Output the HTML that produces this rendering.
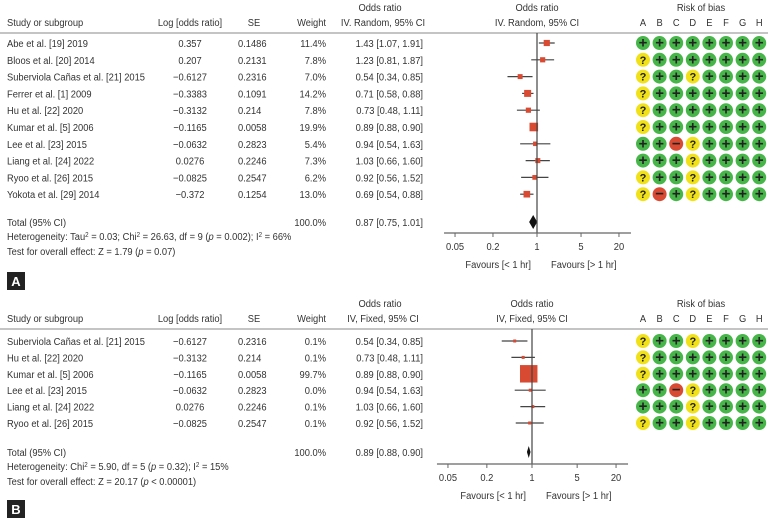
<!DOCTYPE html>
<html><head><meta charset="utf-8"><style>
html,body{margin:0;padding:0;background:#fff;}
svg{display:block;font-family:"Liberation Sans",sans-serif;}
text{fill:#333;font-size:10.5px;}
text.lbl{fill:#fff;font-weight:bold;font-size:13px;}
</style></head><body>
<svg id="chart" width="774" height="527" viewBox="0 0 774 527"></svg>
<script>
// Panel A data
const studiesA = ["Abe et al. [19] 2019","Bloos et al. [20] 2014","Suberviola Cañas et al. [21] 2015","Ferrer et al. [1] 2009","Hu et al. [22] 2020","Kumar et al. [5] 2006","Lee et al. [23] 2015","Liang et al. [24] 2022","Ryoo et al. [26] 2015","Yokota et al. [29] 2014"];
const logOrA = ["0.357","0.207","−0.6127","−0.3383","−0.3132","−0.1165","−0.0632","0.0276","−0.0825","−0.372"];
const seA = ["0.1486","0.2131","0.2316","0.1091","0.214","0.0058","0.2823","0.2246","0.2547","0.1254"];
const weightA = [11.4,7.8,7.0,14.2,7.8,19.9,5.4,7.3,6.2,13.0];
const orA = [1.43,1.23,0.54,0.71,0.73,0.89,0.94,1.03,0.92,0.69];
const loA = [1.07,0.81,0.34,0.58,0.48,0.88,0.54,0.66,0.56,0.54];
const hiA = [1.91,1.87,0.85,0.88,1.11,0.90,1.63,1.60,1.52,0.88];
const robA = ["++++++++","?+++++++","?++?++++","?+++++++","?+++++++","?+++++++","++-?++++","+++?++++","?++?++++","?-+?++++"];
const totalA = [0.87,0.75,1.01];
// Panel B data
const studiesB = ["Suberviola Cañas et al. [21] 2015","Hu et al. [22] 2020","Kumar et al. [5] 2006","Lee et al. [23] 2015","Liang et al. [24] 2022","Ryoo et al. [26] 2015"];
const logOrB = ["−0.6127","−0.3132","−0.1165","−0.0632","0.0276","−0.0825"];
const seB = ["0.2316","0.214","0.0058","0.2823","0.2246","0.2547"];
const weightB = [0.1,0.1,99.7,0.0,0.1,0.1];
const orB = [0.54,0.73,0.89,0.94,1.03,0.92];
const loB = [0.34,0.48,0.88,0.54,0.66,0.56];
const hiB = [0.85,1.11,0.90,1.63,1.60,1.52];
const robB = ["?++?++++","?+++++++","?+++++++","++-?++++","+++?++++","?++?++++"];
const totalB = [0.89,0.88,0.90];
const ticks = [0.05,0.2,1,5,20];
const robLetters = ["A","B","C","D","E","F","G","H"];

const svg = document.getElementById('chart');
const NS = "http://www.w3.org/2000/svg";
function el(tag, attrs, parent){const e=document.createElementNS(NS,tag);for(const k in attrs)e.setAttribute(k,attrs[k]);(parent||svg).appendChild(e);return e;}
function txt(x,y,s,anchor,parent,noScale){
  const t=el('text',{x:0,y:0,'text-anchor':anchor||'start',transform:`translate(${x},${y})`+(noScale?'':' scale(0.89,1)')},parent);
  t.textContent=s;return t;}
function fmt(v){return v.toFixed(2);}

function panel(cfg){
  const g = el('g',{});
  
  
  const X = v => cfg.x1 + Math.log10(v)*cfg.scale;
  const Y = i => cfg.row0 + i*cfg.rowH;
  let h;
  h=txt(380,cfg.hy-15,"Odds ratio",'middle',g); 
  h=txt(cfg.x1,cfg.hy-15,"Odds ratio",'middle',g); 
  h=txt(701,cfg.hy-15,"Risk of bias",'middle',g); 
  txt(7,cfg.hy,"Study or subgroup",'start',g);
  txt(190,cfg.hy,"Log [odds ratio]",'middle',g);
  txt(254,cfg.hy,"SE",'middle',g);
  txt(326,cfg.hy,"Weight",'end',g);
  txt(383,cfg.hy,cfg.method+" 95% CI",'middle',g);
  txt(cfg.x1,cfg.hy,cfg.method+" 95% CI",'middle',g);
  robLetters.forEach((L,j)=>{const t=txt(643+j*16.6,cfg.hy,L,'middle',g);});
  const hl=el('line',{x1:0,x2:768,y1:cfg.hy+7,y2:cfg.hy+7,stroke:'#888','stroke-width':1},g);
  
  cfg.studies.forEach((s,i)=>{
    const y=Y(i);
    const r=el('g',{},g);
    
    
    txt(7,y+4,s,'start',r);
    txt(190,y+4,cfg.logOr[i],'middle',r);
    txt(238,y+4,cfg.se[i],'start',r);
    txt(326,y+4,cfg.weight[i].toFixed(1)+"%",'end',r);
    txt(423,y+4,fmt(cfg.or[i])+" ["+fmt(cfg.lo[i])+", "+fmt(cfg.hi[i])+"]",'end',r);
    const ci=el('line',{x1:X(cfg.lo[i]),x2:X(cfg.hi[i]),y1:y,y2:y,stroke:'#444','stroke-width':1.2},r);
    
    
    const sz=cfg.sq(cfg.weight[i]);
    const sq=el('rect',{x:X(cfg.or[i])-sz/2,y:y-sz/2,width:sz,height:sz,fill:'#d94a32'},r);
    
    
    cfg.rob[i].split('').forEach((c,j)=>{
      const cx=643+j*16.6;
      const col=c==='+'?'#46b648':c==='?'?'#f1e119':'#d94a32';
      const cc=el('circle',{cx:cx,cy:y,r:7,fill:col},r);
      
      
      const t=txt(cx,y+(c==='?'?4:4.5),c==='-'?'−':c,'middle',r,true);
      t.setAttribute('style','font-weight:bold;font-size:'+(c==='?'?'11px':'15px')+';fill:#222');
    });
  });
  const ty=cfg.totY;
  txt(7,ty+4,"Total (95% CI)",'start',g);
  txt(326,ty+4,"100.0%",'end',g);
  txt(423,ty+4,fmt(cfg.total[0])+" ["+fmt(cfg.total[1])+", "+fmt(cfg.total[2])+"]",'end',g);
  const dh=cfg.dh;
  const lx=Math.min(X(cfg.total[1]),X(cfg.total[0])-1.8), rx=Math.max(X(cfg.total[2]),X(cfg.total[0])+1.8);
  const d=el('polygon',{points:`${lx},${ty} ${X(cfg.total[0])},${ty-dh} ${rx},${ty} ${X(cfg.total[0])},${ty+dh}`,fill:'#111'},g);
  
  
  const het=txt(7,ty+18,"",'start',g);
  het.innerHTML=cfg.het;
  
  const te=txt(7,ty+33,"",'start',g);
  te.innerHTML=cfg.test;
  
  const vl=el('line',{x1:cfg.x1,x2:cfg.x1,y1:cfg.hy+7,y2:cfg.axY,stroke:'#444','stroke-width':1.2},g);
  
  const ax=el('line',{x1:X(ticks[0])-11,x2:X(ticks[4])+12,y1:cfg.axY,y2:cfg.axY,stroke:'#666','stroke-width':1.2},g);
  
  ticks.forEach(t=>{
    el('line',{x1:X(t),x2:X(t),y1:cfg.axY,y2:cfg.axY+4,stroke:'#666'},g);
    const tl=txt(X(t),cfg.axY+17,String(t),'middle',g);
    
  });
  txt(cfg.x1-6,cfg.axY+35,"Favours [< 1 hr]",'end',g);
  txt(cfg.x1+14,cfg.axY+35,"Favours [> 1 hr]",'start',g);
  const lb=el('rect',{x:7,y:cfg.lblY,width:18,height:18,fill:'#222'},g);
  
  const lt=el('text',{x:16,y:cfg.lblY+14,'text-anchor':'middle','class':'lbl',fill:'#ffffff'},g);
  lt.textContent=cfg.label;
  
  
}

panel({name:'panel-a',label:'A',method:'IV. Random,',x1:537,scale:63,hy:26,row0:43,rowH:16.8,studies:studiesA,logOr:logOrA,se:seA,weight:weightA,or:orA,lo:loA,hi:hiA,rob:robA,total:totalA,
  sq:w=>3+w*0.28,totY:222,dh:7,axY:233,lblY:272,
  het:'Heterogeneity: Tau<tspan baseline-shift="super" font-size="7">2</tspan> = 0.03; Chi<tspan baseline-shift="super" font-size="7">2</tspan> = 26.63, df = 9 (<tspan font-style="italic">p</tspan> = 0.002); I<tspan baseline-shift="super" font-size="7">2</tspan> = 66%',
  test:'Test for overall effect: Z = 1.79 (<tspan font-style="italic">p</tspan> = 0.07)'});
panel({name:'panel-b',label:'B',method:'IV, Fixed,',x1:532,scale:64.6,hy:322,row0:341,rowH:16.4,studies:studiesB,logOr:logOrB,se:seB,weight:weightB,or:orB,lo:loB,hi:hiB,rob:robB,total:totalB,
  sq:w=>3+w*0.145,totY:452,dh:6,axY:464,lblY:500,
  het:'Heterogeneity: Chi<tspan baseline-shift="super" font-size="7">2</tspan> = 5.90, df = 5 (<tspan font-style="italic">p</tspan> = 0.32); I<tspan baseline-shift="super" font-size="7">2</tspan> = 15%',
  test:'Test for overall effect: Z = 20.17 (<tspan font-style="italic">p</tspan> &lt; 0.00001)'});
</script>
</body></html>
